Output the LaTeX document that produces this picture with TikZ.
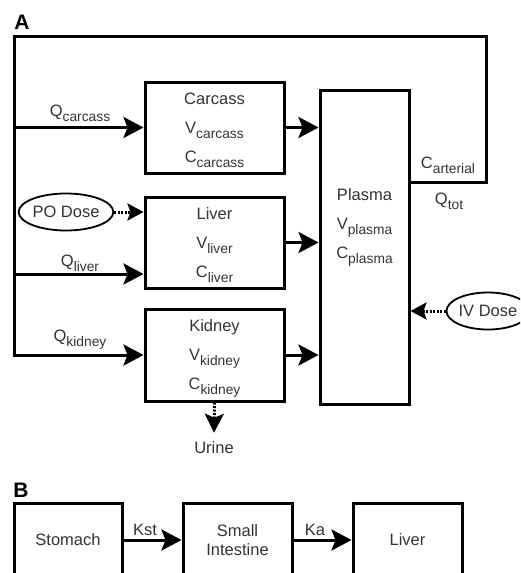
\documentclass[tikz,border=0pt]{standalone}
\usepackage{fontspec}
\setmainfont{Liberation Sans}
\usetikzlibrary{arrows.meta,shapes.geometric}
\newcommand\subtxt[1]{\raisebox{-5pt}{\fontsize{13.8}{14}\selectfont #1}}
\begin{document}
\begin{tikzpicture}[x=1pt,y=-1pt]
  \tikzset{
    every node/.style={font=\fontsize{16.5}{29}\selectfont,text=black!80,align=center},
    box/.style={draw=black,line width=3pt,rectangle,inner sep=0pt,text depth=0pt},
    dose/.style={draw=black,line width=1.8pt,ellipse,minimum width=80pt,minimum height=37pt,inner sep=0pt},
    arr/.style={line width=3pt,line join=miter,-{Stealth[length=20pt,width=21pt,inset=4pt]}},
    dotarr/.style={line width=3pt,dash pattern=on 2pt off 1.5pt,-{Stealth[length=16pt,width=17pt,inset=3pt]}},
    panel/.style={font=\fontsize{21}{21}\selectfont\bfseries,text=black},
  }
  \clip (0,0) rectangle (520,573);
  % panel A
  \node[panel] (labA) at (22,22) {A};
  \node[box,minimum width=139pt,minimum height=91pt] (carcass) at (214.5,127.5) {Carcass\\V\subtxt{carcass}\\C\subtxt{carcass}};
  \node[box,minimum width=139pt,minimum height=91pt] (liver) at (214.5,242.5) {Liver\\V\subtxt{liver}\\C\subtxt{liver}};
  \node[box,minimum width=139pt,minimum height=92pt] (kidney) at (214.5,355) {Kidney\\V\subtxt{kidney}\\C\subtxt{kidney}};
  \node[box,minimum width=89pt,minimum height=314pt] (plasma) at (364.5,247) {};
  \node (plasmatxt) at (364.5,227) {Plasma\\V\subtxt{plasma}\\C\subtxt{plasma}};
  \coordinate (art) at (486,182);
  \coordinate (tl) at (14,36);
  \coordinate (qliv) at (14,274);
  \draw[arr] (plasma.east |- art) -- (art) -- (art |- tl) -- (tl) -- (tl |- kidney.west) -- (kidney.west);
  \draw[arr] (tl |- carcass.west) -- (carcass.west);
  \draw[arr] (qliv) -- (qliv -| liver.west);
  \draw[arr] (carcass.east) -- (carcass.east -| plasma.west);
  \draw[arr] (liver.east) -- (liver.east -| plasma.west);
  \draw[arr] (kidney.east) -- (kidney.east -| plasma.west);
  \node (qcar) at (80,113) {Q\subtxt{carcass}};
  \node (qlivlbl) at (80,263) {Q\subtxt{liver}};
  \node (qkid) at (80,340) {Q\subtxt{kidney}};
  \node (cart) at (448,165) {C\subtxt{arterial}};
  \node (qtot) at (449,201) {Q\subtxt{tot}};
  \node[dose] (podose) at (66,212) {PO Dose};
  \node[dose] (ivdose) at (488,311) {IV Dose};
  \draw[dotarr] (podose.east) -- (podose.east -| liver.west);
  \draw[dotarr] (ivdose.west) -- (ivdose.west -| plasma.east);
  \node[inner ysep=9pt] (urine) at (214,448) {Urine};
  \draw[dotarr,-{Stealth[length=19pt,width=19pt,inset=4pt]}] (kidney.south) -- (urine.north);
  % panel B
  \node[panel] (labB) at (21,490) {B};
  \node[box,minimum width=108pt,minimum height=74pt] (stomach) at (68,540) {Stomach};
  \node[box,minimum width=109pt,minimum height=74pt,font=\fontsize{16.5}{19}\selectfont] (smallint) at (237.5,540) {Small\\Intestine};
  \node[box,minimum width=109pt,minimum height=74pt] (bliver) at (407.5,540) {Liver};
  \draw[arr] (stomach) -- (smallint);
  \draw[arr] (smallint) -- (bliver);
  \node (kst) at (145,530) {Kst};
  \node (ka) at (315,530) {Ka};
\end{tikzpicture}
\end{document}
